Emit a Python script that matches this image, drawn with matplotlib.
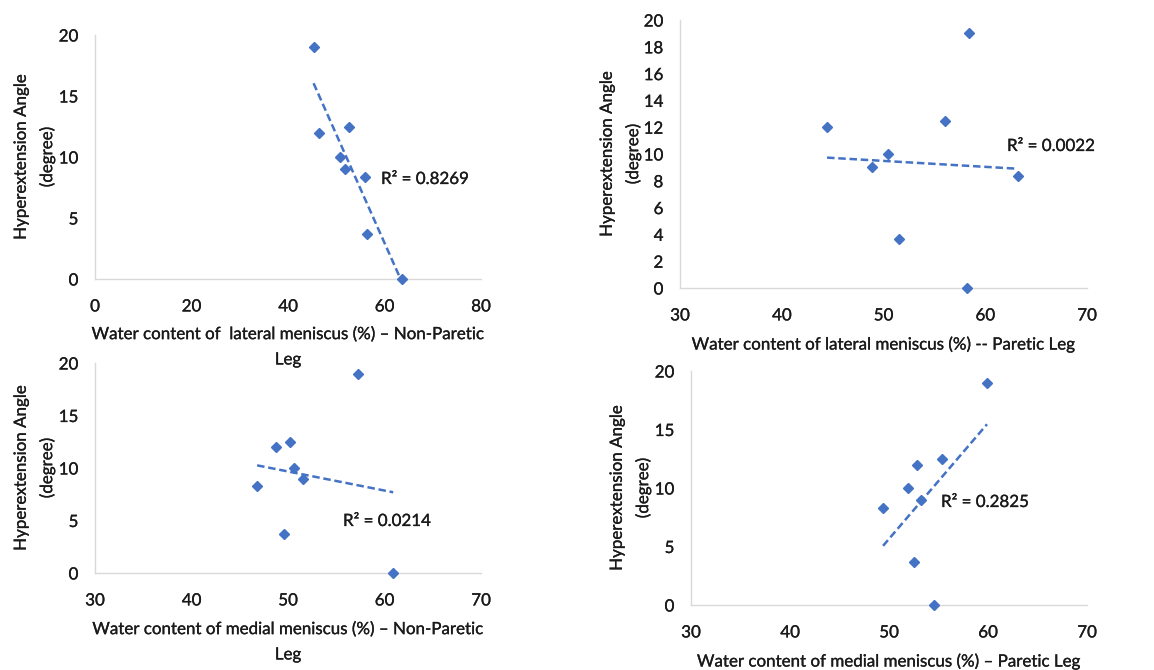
import matplotlib
matplotlib.use("Agg")
import matplotlib.pyplot as plt
import matplotlib.patheffects as pe
import numpy as np

plt.rcParams['font.family'] = ['Lato', 'DejaVu Sans']

# hyperextension angle (degree), same subjects in every panel
angle_lat_np = [19, 12, 12.5, 10, 9, 8.33, 3.67, 0]
water_lat_np = [45.3, 46.4, 52.6, 50.7, 51.9, 56.0, 56.4, 63.6]

angle_lat_p = [12, 9, 10, 3.67, 12.5, 19, 0, 8.33]
water_lat_p = [44.45, 48.9, 50.4, 51.5, 56.0, 58.4, 58.2, 63.2]

angle_med_np = [19, 12, 12.5, 10, 9, 8.33, 3.67, 0]
water_med_np = [57.25, 48.8, 50.2, 50.65, 51.6, 46.8, 49.55, 60.9]

angle_med_p = [19, 12.5, 12, 10, 9, 8.33, 3.67, 0]
water_med_p = [59.9, 55.4, 52.8, 51.9, 53.2, 49.4, 52.5, 54.5]

r2_labels = ["R² = 0.8269", "R² = 0.0022", "R² = 0.0214", "R² = 0.2825"]
xlabels = [
    "Water content of  lateral meniscus (%) – Non-Paretic\nLeg",
    "Water content of lateral meniscus (%) -- Paretic Leg",
    "Water content of medial meniscus (%) – Non-Paretic\nLeg",
    "Water content of medial meniscus (%) – Paretic Leg",
]
ylabel = "Hyperextension Angle\n(degree)"

W, H = 1154, 670
BLUE = "#4472C4"
TXT = "#1a1a1a"
FS = 12.2
# a very thin outline, the Calibri strokes in the original are a bit heavier
bold = [pe.withStroke(linewidth=0.2, foreground=TXT)]

fig = plt.figure(figsize=(W / 100, H / 100), dpi=100)


def px_axes(l, t, r, b):
    return fig.add_axes([l / W, 1 - b / H, (r - l) / W, (b - t) / H])


# (left, top, right, bottom) of each plot area in pixels
boxes = [(95, 35, 481, 279), (680, 20, 1087, 288),
         (95, 363, 481, 573), (691, 371, 1087, 605)]
xlims = [(0, 80), (30, 70), (30, 70), (30, 70)]
xticks = [np.arange(0, 81, 20), np.arange(30, 71, 10),
          np.arange(30, 71, 10), np.arange(30, 71, 10)]
yticks = [np.arange(0, 21, 5), np.arange(0, 21, 2),
          np.arange(0, 21, 5), np.arange(0, 21, 5)]
data = [(water_lat_np, angle_lat_np), (water_lat_p, angle_lat_p),
        (water_med_np, angle_med_np), (water_med_p, angle_med_p)]
# y-label centre (x px), x-label first line centre (y px), R2 label (left px, centre y px)
ylab_x = [34, 620, 34, 630]
xlab_y = [333, 343, 628, 660]
r2_pos = [(381, 179), (1007, 146), (343, 521), (941, 502)]

for i, (box, (xs, ys)) in enumerate(zip(boxes, data)):
    ax = px_axes(*box)
    xs = np.array(xs)
    ys = np.array(ys)
    ax.plot(xs, ys, linestyle="none", marker="D", markersize=5.5,
            color=BLUE, zorder=3, clip_on=False)
    k, c = np.polyfit(xs, ys, 1)
    xx = np.array([xs.min(), xs.max()])
    ax.plot(xx, k * xx + c, color=BLUE, lw=1.8, dashes=(3, 1.5), zorder=2,
            clip_on=False)
    ax.set_xlim(*xlims[i])
    ax.set_ylim(0, 20)
    ax.set_xticks(xticks[i])
    ax.set_yticks(yticks[i])
    for s in ["top", "right"]:
        ax.spines[s].set_visible(False)
    for s in ["left", "bottom"]:
        ax.spines[s].set_color("#d9d9d9")
        ax.spines[s].set_linewidth(1.0)
    ax.tick_params(length=0, labelsize=FS, colors=TXT)
    ax.tick_params(axis="x", pad=14)
    ax.tick_params(axis="y", pad=12)
    for lab in ax.get_xticklabels() + ax.get_yticklabels():
        lab.set_path_effects(bold)
    ax.patch.set_alpha(0)

    l, t, r, b = box
    fig.text(ylab_x[i] / W, 1 - ((t + b) / 2) / H, ylabel, rotation=90,
             ha="center", va="center", ma="center", fontsize=FS,
             color=TXT, linespacing=1.72, path_effects=bold)
    fig.text(((l + r) / 2) / W, 1 - (xlab_y[i] - 7) / H, xlabels[i],
             ha="center", va="top", ma="center", fontsize=FS,
             color=TXT, linespacing=1.72, path_effects=bold)
    rx, ry = r2_pos[i]
    fig.text(rx / W, 1 - ry / H, r2_labels[i], ha="left", va="center",
             fontsize=FS, color=TXT, path_effects=bold)

fig.savefig("out.png", dpi=100)
